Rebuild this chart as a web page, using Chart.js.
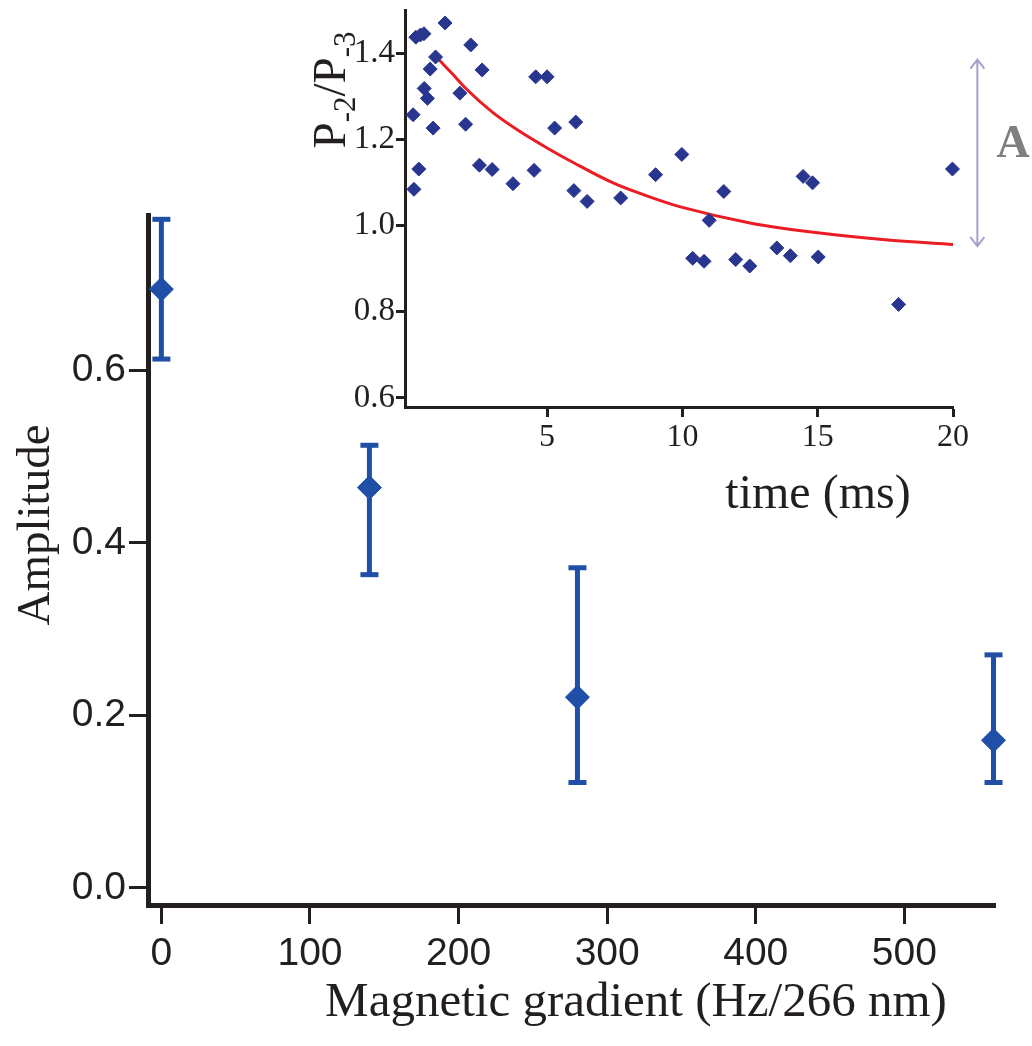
<!DOCTYPE html>
<html>
<head>
<meta charset="utf-8">
<script src="https://cdn.jsdelivr.net/npm/chart.js@4.4.0/dist/chart.umd.min.js"></script>
<style>
  html, body { margin: 0; padding: 0; background: #fff; }
  #wrap { position: relative; width: 1032px; height: 1046px; }
  #principal { position: absolute; left: 0; top: 0; }
  #recuadro { position: absolute; left: 300px; top: 0; }
</style>
</head>
<body>
<div id="wrap">
  <canvas id="principal" width="1032" height="1046"></canvas>
  <canvas id="recuadro" width="732" height="530"></canvas>
</div>
<script>
// grafico principal
const gradiente = [0, 140, 280, 560];
const amplitud = [0.694, 0.464, 0.221, 0.171];
const errAlto = [0.775, 0.513, 0.371, 0.270];
const errBajo = [0.613, 0.363, 0.122, 0.122];
const ticksGradiente = [0, 100, 200, 300, 400, 500];
const ticksAmplitud = [0, 0.2, 0.4, 0.6];

// recuadro
const tiempo = [0.05, 0.08, 0.15, 0.32, 0.45, 0.26, 0.46, 0.58, 0.68, 0.79, 0.88, 1.23, 1.78, 1.99, 2.18,
  2.50, 2.60, 2.97, 3.74, 4.52, 4.58, 5.00, 5.28, 5.99, 6.06, 6.48, 7.72, 9.01, 9.98, 10.38, 10.80,
  10.99, 11.53, 11.97, 12.49, 13.49, 13.99, 14.46, 14.81, 15.02, 17.99, 19.98];
const razon = [1.257, 1.084, 1.437, 1.442, 1.445, 1.131, 1.318, 1.295, 1.363, 1.226, 1.391, 1.470, 1.307, 1.235, 1.419,
  1.140, 1.361, 1.130, 1.097, 1.128, 1.345, 1.345, 1.226, 1.081, 1.240, 1.056, 1.064, 1.118, 1.165, 0.924, 0.917,
  1.012, 1.079, 0.921, 0.906, 0.948, 0.930, 1.114, 1.099, 0.927, 0.817, 1.131];
const ajusteT = [0.85, 1.5, 2, 3, 4, 5, 6, 7.5, 9, 10, 12.5, 15, 17.5, 20];
const ajusteY = [1.395, 1.352, 1.318, 1.262, 1.218, 1.180, 1.145, 1.097, 1.062, 1.042, 1.006, 0.983, 0.967, 0.956];
const ticksTiempo = [5, 10, 15, 20];
const ticksRazon = [0.6, 0.8, 1.0, 1.2, 1.4];
const flechaT = 20.9;
const flechaA = [0.952, 1.385];

const azul = "#1f4fa6";
const marino = "#29368f";
const negro = "#231f20";

function fijarTicks(valores) {
    return function(scale) {
        scale.ticks = valores.map(v => ({ value: v }));
    };
}

// barras de error: segmentos separados por huecos
const barras = [];
const topes = [];
gradiente.forEach((g, i) => {
    barras.push({ x: g, y: errBajo[i] }, { x: g, y: errAlto[i] }, { x: g, y: null });
    topes.push({ x: g, y: errBajo[i] }, { x: g, y: errAlto[i] });
});

const textosPrincipal = {
    id: "textosPrincipal",
    afterDraw(chart) {
        const ctx = chart.ctx;
        ctx.save();
        ctx.fillStyle = negro;
        ctx.textAlign = "center";
        ctx.textBaseline = "middle";
        ctx.font = "49px 'Liberation Serif'";
        ctx.fillText("Magnetic gradient (Hz/266 nm)", 636, 1003);
        ctx.translate(37, 525);
        ctx.rotate(-Math.PI / 2);
        ctx.font = "47px 'Liberation Serif'";
        ctx.fillText("Amplitude", 0, 0);
        ctx.restore();
    }
};

new Chart(document.querySelector("#principal"), {
    type: "scatter",
    data: {
        datasets: [
            {
                data: gradiente.map((g, i) => ({ x: g, y: amplitud[i] })),
                pointStyle: "rectRot",
                pointRadius: 12,
                backgroundColor: azul,
                borderColor: azul,
                borderWidth: 1,
                clip: false
            },
            {
                data: topes,
                pointStyle: "line",
                pointRadius: 9,
                borderColor: azul,
                borderWidth: 5,
                clip: false
            },
            {
                data: barras,
                showLine: true,
                spanGaps: false,
                pointRadius: 0,
                borderColor: azul,
                borderWidth: 5,
                clip: false
            }
        ]
    },
    options: {
        responsive: false,
        animation: false,
        events: [],
        layout: { padding: { left: 0, top: 215, right: 37, bottom: 0 } },
        plugins: { legend: { display: false }, tooltip: { enabled: false } },
        scales: {
            x: {
                type: "linear",
                min: -9,
                max: 561,
                afterBuildTicks: fijarTicks(ticksGradiente),
                afterFit: s => { s.height = 141; },
                border: { display: true, color: negro, width: 5 },
                grid: { drawOnChartArea: false, drawTicks: true, tickLength: 19, tickWidth: 3, tickColor: negro },
                ticks: { color: negro, padding: 7, font: { family: "'Liberation Sans'", size: 39 } }
            },
            y: {
                type: "linear",
                min: -0.02,
                max: 0.78,
                afterBuildTicks: fijarTicks(ticksAmplitud),
                afterFit: s => { s.width = 148; },
                border: { display: true, color: negro, width: 5 },
                grid: { drawOnChartArea: false, drawTicks: true, tickLength: 19, tickWidth: 3, tickColor: negro },
                ticks: {
                    color: negro, padding: 3,
                    font: { family: "'Liberation Sans'", size: 39 },
                    callback: v => v.toFixed(1)
                }
            }
        }
    },
    plugins: [textosPrincipal]
});

const textosRecuadro = {
    id: "textosRecuadro",
    afterDraw(chart) {
        const ctx = chart.ctx;
        const xs = chart.scales.x;
        const ys = chart.scales.y;
        ctx.save();
        ctx.fillStyle = negro;

        // etiqueta del eje x
        ctx.textAlign = "center";
        ctx.textBaseline = "middle";
        ctx.font = "48px 'Liberation Serif'";
        ctx.fillText("time (ms)", 518, 495);

        // flecha de amplitud
        const fx = xs.getPixelForValue(flechaT);
        const y1 = ys.getPixelForValue(flechaA[1]);
        const y2 = ys.getPixelForValue(flechaA[0]);
        ctx.strokeStyle = "#a3a2cc";
        ctx.lineWidth = 2;
        ctx.beginPath();
        ctx.moveTo(fx, y1);
        ctx.lineTo(fx, y2);
        ctx.moveTo(fx - 7, y1 + 9);
        ctx.lineTo(fx, y1);
        ctx.lineTo(fx + 7, y1 + 9);
        ctx.moveTo(fx - 7, y2 - 9);
        ctx.lineTo(fx, y2);
        ctx.lineTo(fx + 7, y2 - 9);
        ctx.stroke();

        ctx.fillStyle = "#7f7f7f";
        ctx.font = "bold 46px 'Liberation Serif'";
        ctx.fillText("A", 713, 145);

        // etiqueta del eje y con subindices
        ctx.fillStyle = negro;
        const partes = [["P", 47, 0], ["-2", 31, 10], ["/", 47, 0], ["P", 47, 0], ["-3", 31, 10]];
        let total = 0;
        partes.forEach(p => {
            ctx.font = p[1] + "px 'Liberation Serif'";
            total += ctx.measureText(p[0]).width;
        });
        ctx.translate(45, 90 + total / 2);
        ctx.rotate(-Math.PI / 2);
        ctx.textAlign = "left";
        ctx.textBaseline = "alphabetic";
        let pos = 0;
        partes.forEach(p => {
            ctx.font = p[1] + "px 'Liberation Serif'";
            ctx.fillText(p[0], pos, p[2]);
            pos += ctx.measureText(p[0]).width;
        });
        ctx.restore();
    }
};

new Chart(document.querySelector("#recuadro"), {
    type: "scatter",
    data: {
        datasets: [
            {
                data: tiempo.map((t, i) => ({ x: t, y: razon[i] })),
                pointStyle: "rectRot",
                pointRadius: 7,
                backgroundColor: marino,
                borderColor: marino,
                borderWidth: 1,
                clip: false
            },
            {
                data: ajusteT.map((t, i) => ({ x: t, y: ajusteY[i] })),
                showLine: true,
                cubicInterpolationMode: "monotone",
                pointRadius: 0,
                borderColor: "#ec1c24",
                borderWidth: 3,
                clip: false
            }
        ]
    },
    options: {
        responsive: false,
        animation: false,
        events: [],
        layout: { padding: { left: 0, top: 10, right: 79, bottom: 0 } },
        plugins: { legend: { display: false }, tooltip: { enabled: false } },
        scales: {
            x: {
                type: "linear",
                min: -0.25,
                max: 20,
                afterBuildTicks: fijarTicks(ticksTiempo),
                afterFit: s => { s.height = 123; s.paddingLeft = 0; s.paddingRight = 0; },
                border: { display: true, color: negro, width: 3 },
                grid: { drawOnChartArea: false, drawTicks: true, tickLength: 10, tickWidth: 3, tickColor: negro },
                ticks: { color: negro, padding: 1, font: { family: "'Liberation Serif'", size: 32 } }
            },
            y: {
                type: "linear",
                min: 0.579,
                max: 1.5,
                afterBuildTicks: fijarTicks(ticksRazon),
                afterFit: s => { s.width = 105; s.paddingTop = 0; s.paddingBottom = 0; },
                border: { display: true, color: negro, width: 3 },
                grid: { drawOnChartArea: false, drawTicks: true, tickLength: 9, tickWidth: 3, tickColor: negro },
                ticks: {
                    color: negro, padding: 1,
                    font: { family: "'Liberation Serif'", size: 33 },
                    callback: v => v.toFixed(1)
                }
            }
        }
    },
    plugins: [textosRecuadro]
});
</script>
</body>
</html>
